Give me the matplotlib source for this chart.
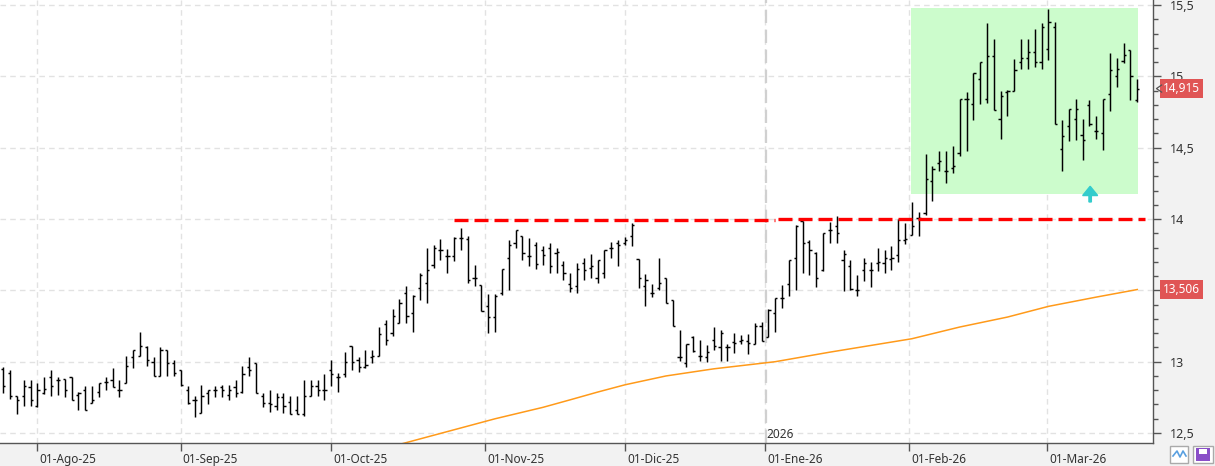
import matplotlib
matplotlib.use("Agg")
import matplotlib.pyplot as plt
import matplotlib.transforms as mtransforms
from matplotlib.patches import Rectangle, FancyArrow
import numpy as np

# ---------------- data ----------------
opens = [12.95,12.92,12.76,12.76,12.82,12.69,12.78,12.89,12.87,12.88,
         12.89,12.77,12.80,12.71,12.79,12.86,12.87,12.80,12.85,13.03,
         13.04,13.10,13.00,12.90,13.08,12.99,12.94,12.80,12.73,12.64,
         12.78,12.80,12.82,12.77,12.82,12.79,12.96,12.99,12.76,12.71,
         12.69,12.75,12.72,12.66,12.63,12.76,12.83,12.80,12.94,12.89,
         12.915,13.11,13.01,12.96,13.03,13.04,13.266,13.20,13.27,13.48,
         13.34,13.52,13.55,13.675,13.78,13.74,13.74,13.87,13.86,13.59,
         13.535,13.39,13.31,13.48,13.73,13.83,13.88,13.74,13.82,13.78,
         13.80,13.76,13.675,13.546,13.53,13.69,13.66,13.59,13.62,13.80,
         13.83,13.83,13.88,13.717,13.53,13.48,13.52,13.59,13.43,13.03,
         12.99,13.17,13.04,13.03,13.15,13.10,13.10,13.14,13.144,13.144,
         13.125,13.25,13.17,13.34,13.45,13.547,13.73,13.986,13.84,13.76,
         13.64,13.92,13.95,13.71,13.67,13.50,13.64,13.64,13.69,13.69,
         13.72,13.745,13.855,13.886,14.01,14.04,14.27,14.39,14.337,14.36,
         14.464,14.845,14.81,14.98,14.845,15.14,14.705,14.89,14.90,15.10,
         15.13,15.17,15.10,15.195,15.35,14.494,14.65,14.705,14.588,14.80,
         14.62,14.604,14.88,15.002,15.109,15.184,14.838]
highs = [12.96,12.94,12.76,12.87,12.87,12.85,12.89,12.94,12.89,12.88,
         12.89,12.79,12.83,12.83,12.85,12.89,12.955,12.87,13.04,13.08,
         13.205,13.11,13.03,13.10,13.08,13.01,12.94,12.83,12.76,12.84,
         12.80,12.83,12.84,12.84,12.87,12.97,13.03,12.99,12.78,12.80,
         12.78,12.78,12.76,12.76,12.87,12.87,12.87,12.915,13.01,12.92,
         13.07,13.11,13.03,13.08,13.08,13.24,13.29,13.37,13.44,13.53,
         13.465,13.62,13.80,13.815,13.86,13.79,13.874,13.94,13.88,13.675,
         13.535,13.476,13.476,13.65,13.85,13.925,13.88,13.87,13.84,13.81,
         13.835,13.80,13.705,13.62,13.69,13.73,13.755,13.715,13.78,13.84,
         13.85,13.874,13.974,13.717,13.617,13.546,13.73,13.59,13.43,13.224,
         13.125,13.18,13.155,13.114,13.24,13.22,13.125,13.20,13.184,13.196,
         13.273,13.278,13.37,13.45,13.535,13.715,13.956,13.986,13.85,13.77,
         13.90,13.98,14.02,13.785,13.715,13.605,13.73,13.70,13.80,13.78,
         13.81,14.00,13.97,14.12,14.05,14.459,14.37,14.48,14.48,14.51,
         14.845,14.89,15.025,15.102,15.376,15.266,14.90,14.908,15.12,15.26,
         15.26,15.33,15.376,15.47,15.383,14.693,14.775,14.845,14.705,14.838,
         14.72,14.845,15.165,15.126,15.236,15.184,14.985]
lows = [12.78,12.74,12.63,12.69,12.69,12.68,12.775,12.76,12.77,12.75,
        12.73,12.66,12.66,12.71,12.75,12.80,12.82,12.75,12.85,12.955,
        13.04,12.97,12.90,12.90,12.90,12.90,12.83,12.70,12.61,12.64,
        12.70,12.75,12.75,12.73,12.75,12.78,12.90,12.78,12.68,12.65,
        12.66,12.64,12.63,12.63,12.62,12.76,12.76,12.73,12.83,12.79,
        12.89,12.94,12.93,12.955,12.99,13.04,13.12,13.18,13.27,13.27,
        13.21,13.43,13.41,13.66,13.71,13.62,13.705,13.785,13.55,13.53,
        13.355,13.20,13.21,13.465,13.50,13.796,13.715,13.67,13.65,13.675,
        13.62,13.62,13.57,13.49,13.48,13.575,13.59,13.55,13.59,13.73,
        13.67,13.815,13.81,13.516,13.39,13.453,13.50,13.413,13.25,13.004,
        12.962,13.07,13.008,13.00,13.08,13.008,13.008,13.06,13.125,13.055,
        13.125,13.144,13.17,13.21,13.376,13.46,13.505,13.62,13.61,13.523,
        13.636,13.83,13.83,13.495,13.50,13.458,13.565,13.523,13.636,13.62,
        13.64,13.70,13.828,13.886,13.88,14.026,14.13,14.34,14.253,14.32,
        14.44,14.48,14.693,14.805,14.815,14.768,14.564,14.72,14.90,15.055,
        15.055,15.067,15.055,15.114,14.67,14.34,14.548,14.553,14.417,14.65,
        14.564,14.487,14.758,14.927,15.095,14.838,14.82]
closes = [12.83,12.76,12.73,12.83,12.73,12.80,12.81,12.83,12.87,12.80,
          12.73,12.78,12.66,12.73,12.85,12.86,12.82,12.80,12.97,13.08,
          13.11,13.01,12.90,13.08,12.99,12.92,12.84,12.71,12.73,12.76,
          12.80,12.80,12.80,12.80,12.78,12.915,12.94,12.78,12.71,12.70,
          12.75,12.69,12.63,12.63,12.76,12.83,12.80,12.80,12.915,12.89,
          13.00,13.00,12.96,12.975,13.04,13.196,13.15,13.32,13.41,13.32,
          13.46,13.61,13.64,13.80,13.78,13.74,13.87,13.87,13.57,13.59,
          13.355,13.31,13.46,13.65,13.82,13.92,13.76,13.74,13.687,13.745,
          13.67,13.77,13.62,13.52,13.65,13.64,13.67,13.71,13.78,13.80,
          13.82,13.85,13.96,13.59,13.575,13.48,13.55,13.413,13.25,13.03,
          13.125,13.075,13.04,13.07,13.11,13.20,13.10,13.13,13.155,13.13,
          13.25,13.144,13.36,13.45,13.45,13.715,13.95,13.83,13.78,13.59,
          13.90,13.92,13.90,13.757,13.51,13.50,13.69,13.64,13.70,13.73,
          13.73,13.855,13.86,13.95,14.01,14.28,14.35,14.41,14.337,14.37,
          14.845,14.845,15.025,15.102,15.14,14.768,14.864,14.90,15.044,15.13,
          15.17,15.10,15.35,15.383,14.67,14.58,14.775,14.775,14.557,14.67,
          14.62,14.845,15.044,15.055,15.149,15.002,14.915]

# moving average (read at selected bars)
ma_idx = [58, 65, 72, 79, 83, 87, 91, 97, 104, 113, 121, 133, 140, 147, 153, 160, 166]
ma_val = [12.42, 12.51, 12.60, 12.68, 12.733, 12.787, 12.838, 12.90, 12.95, 13.0,
          13.067, 13.161, 13.243, 13.313, 13.388, 13.453, 13.506]

month_labels = ["01-Ago-25", "01-Sep-25", "01-Oct-25", "01-Nov-25", "01-Dic-25",
                "01-Ene-26", "01-Feb-26", "01-Mar-26"]
month_pos = [4.93, 25.97, 48.0, 70.5, 91.0, 111.5, 132.6, 152.8]
year_label = "2026"
year_pos = 111.6

support_level = 14.0
support_seg1 = (66.0, 113.0)
support_seg2 = (113.4, 167.2)
zone_x = (132.9, 166.1)
zone_y = (14.176, 15.481)
arrow_x = 159.1
arrow_y = (14.12, 14.23)

last_price = 14.915
ma_last = 13.506

yticks = [12.5, 13.0, 13.5, 14.0, 14.5, 15.0, 15.5]
ytick_labels = ["12,5", "13", "", "14", "14,5", "15", "15,5"]  # 13,5 hidden behind MA box

# ---------------- figure ----------------
W, H = 1215, 466
fig = plt.figure(figsize=(W / 100, H / 100), dpi=100, facecolor="#f2f2f2")
ax_l, ax_r, ax_b = 0, 1153, 443
ax = fig.add_axes([ax_l / W, 1 - ax_b / H, (ax_r - ax_l) / W, ax_b / H])
ax.set_facecolor("white")

n = len(closes)
x = np.arange(n)
ax.set_xlim(-0.48, 168.3)
ax.set_ylim(12.430, 15.536)

# grid
for v in yticks:
    ax.axhline(v, color="#e2e2e2", lw=1, ls=(0, (4, 3)), zorder=0)
for p in month_pos:
    ax.axvline(p, color="#e2e2e2", lw=1, ls=(0, (4, 3)), zorder=0)
ax.axvline(year_pos, color="#d0d0d0", lw=1.6, ls=(0, (6, 3)), zorder=0)

# green zone
ax.add_patch(Rectangle((zone_x[0], zone_y[0]), zone_x[1] - zone_x[0], zone_y[1] - zone_y[0],
                       facecolor="#ccfccc", edgecolor="none", zorder=0.5))

# MA line
ax.plot(ma_idx, ma_val, color="#ff9a1a", lw=1.1, zorder=2)

# OHLC bars
ax.vlines(x, lows, highs, color="black", lw=1.05, zorder=3)
ax.hlines(opens, x - 0.32, x, color="black", lw=1.05, zorder=3)
ax.hlines(closes, x, x + 0.32, color="black", lw=1.05, zorder=3)

# support lines
ax.plot(support_seg1, [support_level - 0.004] * 2, color="#ff0000", lw=2.4,
        ls=(0, (4.2, 1.8)), zorder=4)
ax.plot(support_seg2, [support_level + 0.002] * 2, color="#ff0000", lw=2.4,
        ls=(0, (4.2, 1.8)), zorder=4)

# arrow
ax.add_patch(FancyArrow(arrow_x, arrow_y[0], 0, arrow_y[1] - arrow_y[0],
                        width=0.35, head_width=2.2, head_length=0.065,
                        length_includes_head=True, color="#33cccc", zorder=5))

# year label
ax.text(year_pos + 0.1, 12.445, year_label, fontsize=8.5, color="#333333",
        ha="left", va="bottom", family="Noto Sans", zorder=5)

# axes styling
for s in ["top", "left"]:
    ax.spines[s].set_visible(False)
for s in ["right", "bottom"]:
    ax.spines[s].set_color("#555555")
    ax.spines[s].set_linewidth(1)

ax.yaxis.tick_right()
ax.set_yticks(yticks)
ax.set_yticklabels(ytick_labels)
ax.set_yticks(np.arange(12.5, 15.51, 0.1), minor=True)
ax.tick_params(axis="y", which="major", length=6, width=1, color="#555555",
               labelsize=9, labelcolor="#333333", pad=6)
ax.tick_params(axis="y", which="minor", length=3.5, width=1, color="#555555")
for lab in ax.get_yticklabels():
    lab.set_family("Noto Sans")

ax.set_xticks(month_pos)
ax.set_xticklabels(month_labels)
ax.tick_params(axis="x", which="major", length=6, width=1, color="#555555",
               labelsize=8.5, labelcolor="#333333", pad=1)
offset = mtransforms.ScaledTranslation(2 / 100, 0, fig.dpi_scale_trans)
for lab in ax.get_xticklabels():
    lab.set_horizontalalignment("left")
    lab.set_family("Noto Sans")
    lab.set_transform(lab.get_transform() + offset)

# price boxes
bt = mtransforms.blended_transform_factory(ax.transAxes, ax.transData)
for val in [last_price, ma_last]:
    ax.text(1.0085, val, ("%.3f" % val).replace(".", ","), transform=bt,
            fontsize=8.5, color="white", ha="left", va="center", family="Noto Sans",
            bbox=dict(boxstyle="square,pad=0.25", fc="#e05555", ec="none"),
            clip_on=False, zorder=10)
# small pointer at last price
ax.plot([1.0075, 1.0030, 1.0075], [last_price + 0.025, last_price, last_price - 0.025],
        transform=bt, color="#555555", lw=0.9, clip_on=False, zorder=10)

# bottom-right icons
fig.patches.append(Rectangle((1170 / W, 3 / H), 18 / W, 17 / H, transform=fig.transFigure,
                             facecolor="white", edgecolor="#aaaaaa", lw=1))
fig.lines.append(plt.Line2D([1173 / W, 1177 / W, 1180 / W, 1183 / W, 1186 / W],
                            [10 / H, 15 / H, 9 / H, 15 / H, 10 / H],
                            transform=fig.transFigure, color="#5aa0e0", lw=1.2))
fig.patches.append(Rectangle((1193 / W, 3 / H), 20 / W, 17 / H, transform=fig.transFigure,
                             facecolor="white", edgecolor="#aaaaaa", lw=1))
fig.patches.append(Rectangle((1196 / W, 5 / H), 14 / W, 13 / H, transform=fig.transFigure,
                             facecolor="#8a4fc8", edgecolor="none"))
fig.patches.append(Rectangle((1199 / W, 12 / H), 8 / W, 5 / H, transform=fig.transFigure,
                             facecolor="white", edgecolor="none"))

fig.savefig("out.png", dpi=100, facecolor=fig.get_facecolor())
